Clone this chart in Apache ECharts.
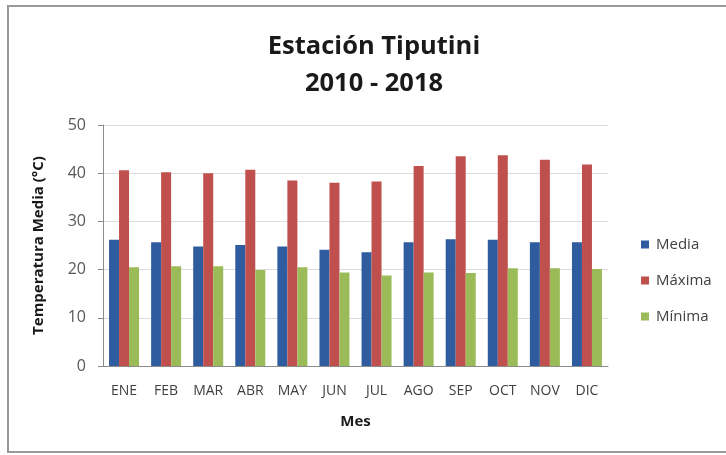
<!DOCTYPE html>
<html>
<head>
<meta charset="utf-8">
<script src="https://cdn.jsdelivr.net/npm/echarts@6/dist/echarts.min.js"></script>
<style>html,body{margin:0;padding:0;background:#fff}#c{width:726px;height:455px}</style>
</head>
<body>
<div id="c"></div>
<script>
const categories = ['ENE','FEB','MAR','ABR','MAY','JUN','JUL','AGO','SEP','OCT','NOV','DIC'];
const media  = [26.2, 25.7, 24.8, 25.1, 24.8, 24.1, 23.6, 25.7, 26.3, 26.2, 25.7, 25.7];
const maxima = [40.6, 40.2, 40.0, 40.7, 38.5, 38.0, 38.3, 41.5, 43.5, 43.7, 42.8, 41.8];
const minima = [20.5, 20.7, 20.7, 19.9, 20.5, 19.4, 18.8, 19.4, 19.3, 20.3, 20.3, 20.1];
const yTicks = [0, 10, 20, 30, 40, 50];

const font = '"Open Sans", Lato, sans-serif';
const chart = echarts.init(document.getElementById('c'));
chart.setOption({
  animation: false,
  backgroundColor: '#fff',
  textStyle: { fontFamily: font },
  graphic: [{
    type: 'rect', shape: { x: 8, y: 6, width: 740, height: 446 },
    style: { fill: 'none', stroke: '#9A9A9A', lineWidth: 2 }, silent: true
  }],
  title: {
    text: 'Estación Tiputini\n2010 - 2018',
    left: 369, top: 23, textAlign: 'center',
    textStyle: { fontFamily: font, fontWeight: 'bold', fontSize: 25.5, lineHeight: 37, color: '#1a1a1a' }
  },
  legend: {
    orient: 'vertical', left: 636, top: 232,
    itemWidth: 8, itemHeight: 8, itemGap: 21, icon: 'rect',
    textStyle: { fontFamily: font, fontSize: 15, color: '#404040', padding: [0,0,0,2] },
    data: ['Media', 'Máxima', 'Mínima']
  },
  grid: { left: 103, right: 118, top: 125, bottom: 89 },
  xAxis: {
    type: 'category', data: categories,
    name: 'Mes', nameLocation: 'middle', nameGap: 48,
    nameTextStyle: { fontFamily: font, fontWeight: 'bold', fontSize: 15, color: '#1a1a1a' },
    axisLine: { lineStyle: { color: '#8c8c8c' } },
    axisTick: { show: false },
    axisLabel: { margin: 18, fontFamily: font, fontSize: 14, color: '#404040', interval: 0 }
  },
  yAxis: {
    type: 'value', min: 0, max: 50, interval: 10,
    name: 'Temperatura Media (°C)', nameLocation: 'middle', nameGap: 57, nameRotate: 90,
    nameTextStyle: { fontFamily: font, fontWeight: 'bold', fontSize: 15, color: '#1a1a1a' },
    axisLine: { show: true, lineStyle: { color: '#8c8c8c' } },
    axisTick: { show: true, length: 5, lineStyle: { color: '#8c8c8c' } },
    axisLabel: { margin: 17, fontFamily: font, fontSize: 16, color: '#595959',
      formatter: v => yTicks.includes(v) ? String(v) : '' },
    splitLine: { lineStyle: { color: '#DCDCDC' } }
  },
  series: [
    { name: 'Media', type: 'bar', data: media, barWidth: 10, barGap: '0%', itemStyle: { color: '#2E5C9E' } },
    { name: 'Máxima', type: 'bar', data: maxima, barWidth: 10, barGap: '0%', itemStyle: { color: '#C0504D' } },
    { name: 'Mínima', type: 'bar', data: minima, barWidth: 10, barGap: '0%', itemStyle: { color: '#9BBB59' } }
  ]
});
</script>
</body>
</html>
